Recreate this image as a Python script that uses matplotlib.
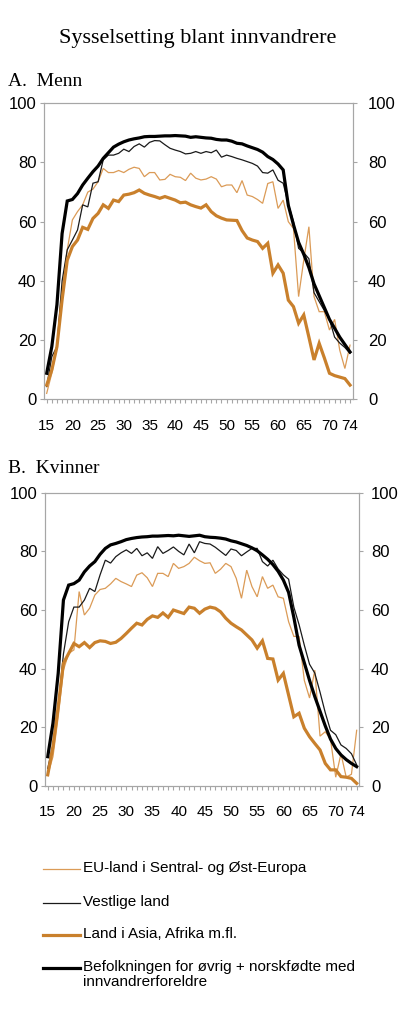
import matplotlib
matplotlib.use("Agg")
import matplotlib.pyplot as plt
from matplotlib.lines import Line2D

plt.rcParams['font.family'] = ['Liberation Sans', 'DejaVu Sans']

ages = list(range(15, 75))
xtick_labels = [15, 20, 25, 30, 35, 40, 45, 50, 55, 60, 65, 70, 74]
yticks = [0, 20, 40, 60, 80, 100]

series_names = ["EU-land i Sentral- og Øst-Europa",
                "Vestlige land",
                "Land i Asia, Afrika m.fl.",
                "Befolkningen for øvrig + norskfødte med\ninnvandrerforeldre"]

# A. Menn
menn_eu = [2, 8.8, 17.8, 37, 50.5, 60.6, 63.4, 65.7, 70, 71,
           73.5, 78, 76.6, 76.6, 77.3, 76.6, 77.7, 78.4, 78, 75.2,
           76.6, 76.6, 74.1, 74.3, 76, 75.2, 75, 73.9, 76.4, 74.7,
           74.1, 74.4, 75.2, 74.4, 71.8, 72.4, 72.4, 69.8, 73.9, 69,
           68.5, 67.5, 66.2, 72.9, 73.5, 64.5, 67.3, 60, 57.7, 34.7,
           47, 58.3, 34.7, 29.6, 29.6, 23.4, 27, 16.6, 10.4, 18.3]
menn_vest = [4.3, 14.4, 17.8, 40, 50.5, 53.8, 57.2, 65.7, 65, 73,
             73.5, 80.9, 82.5, 82.5, 83.1, 84.5, 83.7, 85.4, 86.3, 85.2,
             86.8, 87.4, 87.3, 86, 84.8, 84.2, 83.7, 82.9, 83.1, 83.7,
             83.1, 83.7, 83.3, 84.2, 81.8, 82.5, 82, 81.4, 80.9, 80.3,
             79.7, 78.8, 76.6, 76.4, 77.5, 74, 73, 66, 60, 51,
             49.5, 47.5, 36, 33, 30, 27, 21, 19, 17.5, 15.5]
menn_asia = [4.8, 9.9, 17.8, 33.6, 47, 51.6, 53.8, 58.1, 57.4, 61.1,
             62.8, 65.7, 64.5, 67.3, 66.8, 69, 69.3, 69.8, 70.7, 69.6,
             69, 68.5, 67.9, 68.5, 67.9, 67.3, 66.4, 66.6, 65.7, 65.1,
             64.6, 65.7, 63.4, 62, 61.2, 60.6, 60.5, 60.4, 57, 54.5,
             53.8, 53.3, 51, 52.7, 42.6, 45.4, 42.6, 33.5, 31.3, 25.7,
             28.5, 21, 13.3, 18.9, 14, 8.8, 8, 7.5, 7, 4.8]
menn_bef = [8.8, 17.8, 32, 56, 67, 67.5, 69.5, 72.4, 74.7, 76.9,
            78.8, 81.4, 83.3, 85.2, 86.2, 87, 87.6, 88, 88.3, 88.7,
            88.8, 88.8, 88.9, 89, 89, 89.1, 89, 88.9, 88.5, 88.7,
            88.5, 88.3, 88.2, 87.8, 87.6, 87.6, 87.2, 86.5, 86.3, 85.6,
            85, 84.4, 83.5, 82, 81, 79.5, 77.5, 65.5, 59, 53,
            49, 44.5, 39, 35, 31, 27, 24, 21, 18.5, 16]

# B. Kvinner
kv_eu = [3.8, 10, 23.6, 39.5, 45.2, 46.4, 66.3, 58.3, 60.6, 65.1,
         67, 67.4, 68.9, 70.8, 69.7, 68.9, 68, 71.9, 72.7, 71,
         68, 72.5, 72.5, 71.4, 75.9, 74.2, 74.8, 75.9, 78, 76.8,
         75.9, 76.1, 72.5, 73.9, 75.9, 74.8, 70.8, 64, 73.6, 68,
         64.5, 71.4, 67.4, 68.5, 64.5, 64, 56, 51, 51, 36,
         30, 39.5, 17, 18.5, 16, 3, 11, 3, 4, 19]
kv_vest = [6, 14, 27, 45, 56, 61, 61, 63.4, 67.4, 66.3,
           72, 77, 76, 78.2, 79.5, 80.5, 79.3, 81, 78.5, 79.5,
           77.6, 81.6, 79.3, 80.3, 81.5, 80, 78.8, 82.5, 79.5, 83.3,
           82.7, 82.5, 81.4, 80, 78.6, 80.8, 80.3, 78.5, 79.8, 81,
           81, 76.5, 75, 77, 74, 72, 70.5, 61, 55, 48,
           41.5, 38.5, 32, 25, 19, 17.5, 14, 12.8, 11, 7.2]
kv_asia = [3.8, 13.4, 27, 41.8, 45.2, 48.6, 47.5, 48.9, 47.2, 48.9,
           49.5, 49.3, 48.6, 49, 50.3, 52, 53.8, 55.5, 54.9, 56.8,
           58, 57.5, 59, 57.5, 60, 59.4, 58.8, 61, 60.6, 58.9,
           60.3, 61, 60.6, 59.4, 57.2, 55.5, 54.3, 53.2, 51.5, 49.8,
           47, 49.5, 43.5, 43.3, 36.1, 38.4, 31, 23.6, 24.8, 19.7,
           16.8, 14.5, 12.3, 7.7, 5.5, 5.5, 3.2, 3, 2.6, 0.9]
kv_bef = [10, 21.4, 38.4, 63.4, 68.5, 69, 70.2, 73, 75, 76.5,
          79, 81, 82.2, 82.7, 83.3, 84, 84.4, 84.7, 84.9, 85,
          85.2, 85.2, 85.3, 85.4, 85.3, 85.5, 85.3, 85.1, 85.3, 85.5,
          85, 84.8, 84.7, 84.5, 84.2, 83.6, 83.2, 82.6, 82, 81.2,
          80.2, 78.8, 77.3, 75.5, 73.2, 70.2, 66, 57.5, 48, 42,
          36, 30.5, 25.5, 20.5, 16, 12.8, 10.6, 9, 7.7, 6.6]

colors = ['#DB9B57', '#1a1a1a', '#C9802C', '#000000']
widths = [0.9, 0.9, 2.3, 2.3]
grey = '#A6A6A6'

W, H = 400, 1035
fig = plt.figure(figsize=(W / 100, H / 100), dpi=100)


def px_box(left, top, right, bottom):
    return [left / W, 1 - bottom / H, (right - left) / W, (bottom - top) / H]


def draw_panel(rect, data, right_pad):
    ax = fig.add_axes(rect)
    for vals, c, lw in zip(data, colors, widths):
        ax.plot(ages, vals, color=c, lw=lw, solid_joinstyle='miter')
    ax.set_xlim(14.5, 74.5)
    ax.set_ylim(0, 100)
    ax.set_yticks(yticks)
    ax.set_xticks(ages, minor=True)
    ax.set_xticks(xtick_labels)
    ax.set_xticklabels([str(a) for a in xtick_labels])
    for s in ax.spines.values():
        s.set_color(grey)
        s.set_linewidth(0.8)
    ax.tick_params(axis='x', which='both', direction='out', length=3, color=grey,
                   width=0.8, labelsize=11, pad=11)
    ax.tick_params(axis='y', direction='out', length=3, color=grey, width=0.8,
                   labelsize=12, pad=2.5)
    # right-hand copy of the y scale
    ax2 = ax.twinx()
    ax2.set_ylim(0, 100)
    ax2.set_yticks(yticks)
    ax2.tick_params(axis='y', direction='out', length=3, color=grey, width=0.8,
                    labelsize=12, pad=right_pad)
    for s in ax2.spines.values():
        s.set_color(grey)
        s.set_linewidth(0.8)
    return ax


draw_panel(px_box(44.1, 103.3, 352.6, 399.3), [menn_eu, menn_vest, menn_asia, menn_bef], 8)
draw_panel(px_box(45.1, 492.7, 359.3, 786), [kv_eu, kv_vest, kv_asia, kv_bef], 5.5)

serif = ['Liberation Serif', 'DejaVu Serif']
fig.text(0.495, 1 - 38 / H, "Sysselsetting blant innvandrere", family=serif,
         fontsize=16, ha='center', va='center')
fig.text(8 / W, 1 - 86 / H, "A.  Menn", family=serif, fontsize=14, ha='left', va='baseline')
fig.text(8 / W, 1 - 473 / H, "B.  Kvinner", family=serif, fontsize=14, ha='left', va='baseline')

# legend drawn by hand so the two-line entry keeps its line on the first row
rows = [869, 903, 935, 968]
for name, c, lw, y in zip(series_names, colors, widths, rows):
    yf = 1 - y / H
    fig.add_artist(Line2D([43 / W, 80 / W], [yf, yf], color=c, lw=lw,
                          transform=fig.transFigure))
    fig.text(83 / W, 1 - (y - 8) / H, name, fontsize=11, ha='left', va='top',
             linespacing=1.1)

fig.savefig("out.png", dpi=100)
